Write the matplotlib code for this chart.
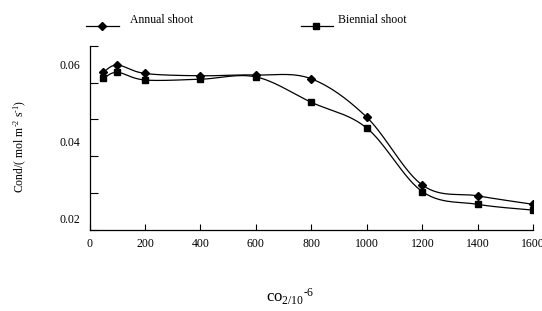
import numpy as np
import matplotlib
matplotlib.use("Agg")
import matplotlib.pyplot as plt
from matplotlib.lines import Line2D

plt.rcParams['font.family'] = ['Liberation Serif', 'DejaVu Serif']
plt.rcParams['mathtext.default'] = 'regular'

co2 = [50, 100, 200, 400, 600, 800, 1000, 1200, 1400, 1600]
annual = [0.0581, 0.0600, 0.0578, 0.0572, 0.0574, 0.0564, 0.0464, 0.0288, 0.0260, 0.0238]
biennial = [0.0565, 0.0581, 0.0561, 0.0563, 0.0569, 0.0503, 0.0436, 0.0271, 0.0238, 0.0223]
xticks = [0, 200, 400, 600, 800, 1000, 1200, 1400, 1600]
ylabels = [0.02, 0.04, 0.06]
series_names = ["Annual shoot", "Biennial shoot"]


def smooth(x, y, n=30):
    p = np.column_stack([x, y]).astype(float)
    pts = [p[0]]
    m = len(p)
    for i in range(m - 1):
        p0 = p[i - 1] if i > 0 else p[i]
        p1, p2 = p[i], p[i + 1]
        p3 = p[i + 2] if i + 2 < m else p[i + 1]
        c1 = p1 + (p2 - p0) / 6.0
        c2 = p2 - (p3 - p1) / 6.0
        t = np.linspace(0, 1, n)[1:, None]
        seg = ((1 - t) ** 3) * p1 + 3 * ((1 - t) ** 2) * t * c1 + 3 * (1 - t) * t ** 2 * c2 + t ** 3 * p2
        pts.extend(seg)
    pts = np.array(pts)
    return pts[:, 0], pts[:, 1]


fig = plt.figure(figsize=(5.42, 3.11), dpi=100)
ax = fig.add_axes([89.5 / 542, 1 - 230 / 311, (533.3 - 89.5) / 542, (230 - 45.7) / 311])

ylo, yhi = 0.01714, 0.06501
ax.set_xlim(0, 1600)
ax.set_ylim(ylo, yhi)

for vals, mk, ms in [(annual, 'D', 4.2), (biennial, 's', 5.0)]:
    sx, sy = smooth(co2, vals)
    ax.plot(sx, sy, color='black', lw=0.9)
    ax.plot(co2, vals, linestyle='none', marker=mk, ms=ms, color='black')

ax.spines['top'].set_visible(False)
ax.spines['right'].set_visible(False)
for s in ['left', 'bottom']:
    ax.spines[s].set_linewidth(0.9)

ax.set_xticks(xticks)
ax.set_xticklabels([str(v) for v in xticks])
ax.tick_params(axis='x', direction='in', length=4, width=0.8, pad=6, labelsize=8.5)

ax.set_yticks(np.linspace(ylo, yhi, 6))
ax.set_yticklabels([])
ax.tick_params(axis='y', which='major', direction='in', length=6, width=0.8)
ax.set_yticks(ylabels, minor=True)
ax.set_yticklabels(["%.2f" % v for v in ylabels], minor=True)
ax.tick_params(axis='y', which='minor', length=0, pad=7, labelsize=8.5)

fig.text(20 / 542, 1 - 146 / 311, "Cond/( mol m$^{\u20102}$ s$^{\u20101}$)", rotation=90,
         ha='center', va='center', fontsize=8.5)
fig.text(290 / 542, 1 - 297 / 311, "co$_{2/10}$$^{\u20106}$", ha='center', va='center', fontsize=12)

# legend
W, H = 542.0, 311.0
for (x0, x1, xm, xt), mk, ms, name in [((86, 119, 101.7, 130), 'D', 4.2, series_names[0]),
                                        ((301, 333, 316, 338), 's', 5.0, series_names[1])]:
    fig.add_artist(Line2D([x0 / W, x1 / W], [1 - 25.5 / H] * 2, color='black', lw=0.9,
                          transform=fig.transFigure))
    fig.add_artist(Line2D([xm / W], [1 - 25.5 / H], marker=mk, ms=ms, color='black',
                          linestyle='none', transform=fig.transFigure))
    fig.text(xt / W, 1 - 20 / H, name, ha='left', va='center', fontsize=8.5)

fig.savefig("out.png", dpi=100)
